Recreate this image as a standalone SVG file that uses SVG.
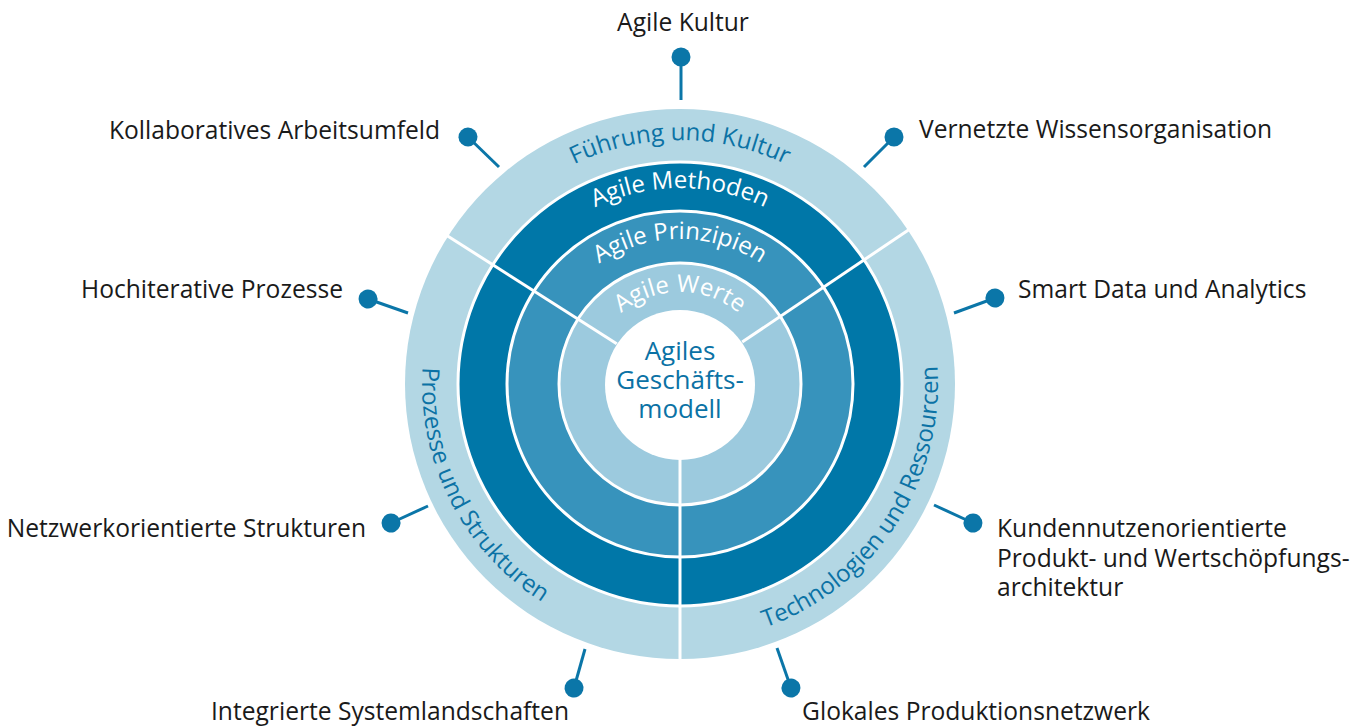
<svg xmlns="http://www.w3.org/2000/svg" width="1365" height="728" viewBox="0 0 1365 728">
  <defs>
    <style>
      .lbl{font-family:"Open Sans","Liberation Sans",sans-serif;font-size:24.6px;fill:#1a1a1a}
      .ringtxt{font-family:"Open Sans","Liberation Sans",sans-serif;font-size:24px}
      .blue{fill:#0b72a5}
      .white{fill:#ffffff}
      .sep{stroke:#ffffff;stroke-width:3}
      .divider{stroke:#ffffff;stroke-width:3;stroke-linecap:butt}
      .pin{stroke:#0b76a8;stroke-width:3;fill:none;marker-start:url(#dot)}
      .core{font-family:"Open Sans","Liberation Sans",sans-serif;font-size:26px;fill:#0b72a5;text-anchor:middle}
    </style>
    <marker id="dot" markerUnits="userSpaceOnUse" viewBox="-10 -10 20 20" markerWidth="20" markerHeight="20" refX="0" refY="0" orient="auto" overflow="visible">
      <circle r="9.5" fill="#0b76a8"/>
    </marker>
    <!-- arcs for ring labels, centre (680,384) -->
    <path id="arcFuehrung" d="M 436 384 A 244 244 0 0 1 924 384"/>
    <path id="arcMethoden" d="M 484 384 A 196 196 0 0 1 876 384"/>
    <path id="arcPrinzipien" d="M 535 384 A 145 145 0 0 1 825 384"/>
    <path id="arcWerte" d="M 588 384 A 92 92 0 0 1 772 384"/>
    <path id="arcProzesse" d="M 437.6 295.8 A 258 258 0 0 0 608.9 632.0"/>
    <path id="arcTechnologien" d="M 722.5 638.5 A 258 258 0 0 0 930.4 322.0"/>
  </defs>

  <rect width="1365" height="728" fill="#ffffff"/>

  <!-- outer ring: three fields -->
  <g id="ring-outer">
    <circle cx="680" cy="384" r="275" fill="#b3d7e4"/>
  </g>

  <g id="ring-methoden">
    <circle class="sep" cx="680" cy="384" r="222" fill="#0077a8"/>
  </g>

  <g id="ring-prinzipien">
    <circle class="sep" cx="680" cy="384" r="173" fill="#3793bc"/>
  </g>

  <g id="ring-werte">
    <circle class="sep" cx="680" cy="384" r="121" fill="#9ccade"/>
  </g>

  <g id="core">
    <circle cx="680" cy="385" r="75" fill="#ffffff"/>
    <text class="core" x="680" y="360">Agiles</text>
    <text class="core" x="680" y="389">Geschäfts-</text>
    <text class="core" x="680" y="418">modell</text>
  </g>

  <!-- radial separators between the three fields -->
  <g id="dividers">
    <line class="divider" x1="616.7" y1="343.7" x2="447.2" y2="235.7"/>
    <line class="divider" x1="742.2" y1="342.1" x2="908.8" y2="229.7"/>
    <line class="divider" x1="680" y1="459" x2="680" y2="660"/>
  </g>

  <!-- curved ring labels -->
  <g id="ring-labels">
    <text class="ringtxt blue" text-anchor="middle"><textPath href="#arcFuehrung" startOffset="50%">Führung und Kultur</textPath></text>
    <text class="ringtxt blue" text-anchor="middle"><textPath href="#arcProzesse" startOffset="50%">Prozesse und Strukturen</textPath></text>
    <text class="ringtxt blue" text-anchor="middle"><textPath href="#arcTechnologien" startOffset="50%">Technologien und Ressourcen</textPath></text>
    <text class="ringtxt white" text-anchor="middle"><textPath href="#arcMethoden" startOffset="50%">Agile Methoden</textPath></text>
    <text class="ringtxt white" text-anchor="middle"><textPath href="#arcPrinzipien" startOffset="50%">Agile Prinzipien</textPath></text>
    <text class="ringtxt white" text-anchor="middle"><textPath href="#arcWerte" startOffset="50%">Agile Werte</textPath></text>
  </g>

  <!-- pin connectors from the outer ring to the labels -->
  <g id="connectors">
    <line class="pin" x1="681" y1="57" x2="681" y2="100"/>
    <line class="pin" x1="468" y1="137" x2="499" y2="167"/>
    <line class="pin" x1="894" y1="137" x2="864" y2="167"/>
    <line class="pin" x1="368" y1="299" x2="408" y2="313"/>
    <line class="pin" x1="995" y1="298" x2="954" y2="313"/>
    <line class="pin" x1="391" y1="523" x2="428" y2="506"/>
    <line class="pin" x1="973" y1="523" x2="934" y2="505"/>
    <line class="pin" x1="574" y1="688" x2="585" y2="649"/>
    <line class="pin" x1="791" y1="688" x2="777" y2="648"/>
  </g>

  <g id="label-agile-kultur">
    <text class="lbl" x="683" y="31" text-anchor="middle">Agile Kultur</text>
  </g>
  <g id="label-kollaboratives-arbeitsumfeld">
    <text class="lbl" x="440" y="139" text-anchor="end">Kollaboratives Arbeitsumfeld</text>
  </g>
  <g id="label-vernetzte-wissensorganisation">
    <text class="lbl" x="919" y="138">Vernetzte Wissensorganisation</text>
  </g>
  <g id="label-hochiterative-prozesse">
    <text class="lbl" x="343" y="298" text-anchor="end">Hochiterative Prozesse</text>
  </g>
  <g id="label-smart-data">
    <text class="lbl" x="1018" y="298">Smart Data und Analytics</text>
  </g>
  <g id="label-netzwerkorientierte-strukturen">
    <text class="lbl" x="366" y="537" text-anchor="end">Netzwerkorientierte Strukturen</text>
  </g>
  <g id="label-kundennutzen">
    <text class="lbl" x="997" y="537">Kundennutzenorientierte</text>
    <text class="lbl" x="997" y="567">Produkt- und Wertschöpfungs-</text>
    <text class="lbl" x="997" y="596">architektur</text>
  </g>
  <g id="label-integrierte-systemlandschaften">
    <text class="lbl" x="390" y="720" text-anchor="middle">Integrierte Systemlandschaften</text>
  </g>
  <g id="label-glokales-produktionsnetzwerk">
    <text class="lbl" x="976" y="720" text-anchor="middle">Glokales Produktionsnetzwerk</text>
  </g>
</svg>
